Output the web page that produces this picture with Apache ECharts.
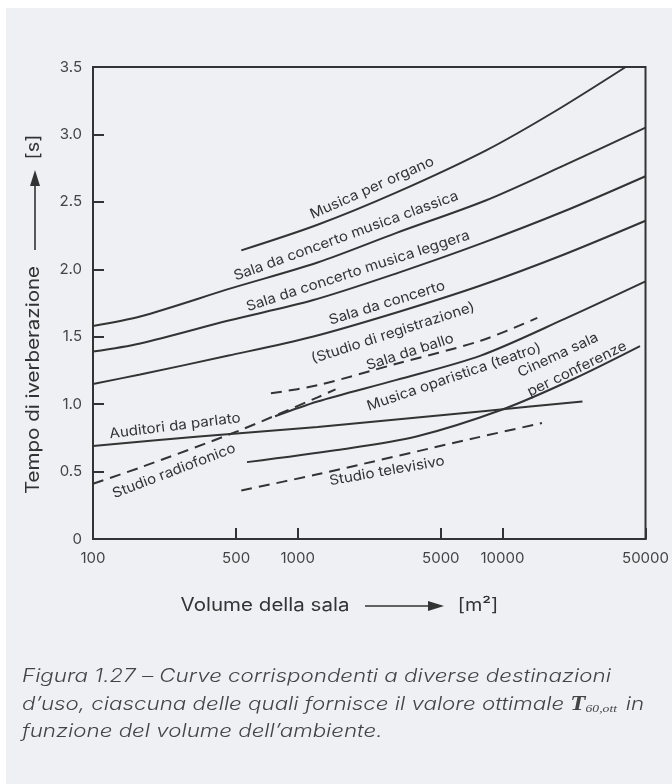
<!DOCTYPE html>
<html><head><meta charset="utf-8">
<script src="https://cdn.jsdelivr.net/npm/echarts@6/dist/echarts.min.js"></script>
<style>
html,body{margin:0;padding:0;background:#fff;}
#bg{position:absolute;left:6px;top:8px;width:666px;height:776px;background:#eff0f4;}
#chart{position:absolute;left:0;top:0;width:672px;height:784px;}
</style></head><body>
<div id="bg"></div><div id="chart"></div>
<script>
// ---- Data (volume m³ , reverberation time s) ----
const xTickValues = [100, 500, 1000, 5000, 10000, 50000];
const yTickValues = [0, 0.5, 1.0, 1.5, 2.0, 2.5, 3.0, 3.5];

const organoV = [530, 1250, 3040, 8280, 18000, 40000];
const organoT = [2.14, 2.33, 2.57, 2.88, 3.17, 3.5];

const classicaV = [100, 170, 475, 1250, 3040, 8280, 20000, 50000];
const classicaT = [1.58, 1.65, 1.86, 2.05, 2.27, 2.51, 2.77, 3.05];

const leggeraV = [100, 170, 460, 1180, 3040, 7830, 20000, 50000];
const leggeraT = [1.39, 1.45, 1.62, 1.77, 1.97, 2.19, 2.43, 2.69];

const concertoV = [100, 170, 460, 1180, 3040, 7830, 20000, 50000];
const concertoT = [1.15, 1.22, 1.36, 1.50, 1.68, 1.88, 2.11, 2.36];

const operaV = [775, 1250, 3040, 7830, 20000, 50000];
const operaT = [0.91, 1.02, 1.18, 1.36, 1.63, 1.91];

const auditoriV = [100, 330, 1250, 8280, 24600];
const auditoriT = [0.69, 0.76, 0.83, 0.95, 1.02];

const cinemaV = [565, 1560, 3800, 10000, 22500, 47000];
const cinemaT = [0.57, 0.66, 0.76, 0.96, 1.19, 1.43];

const tvV = [530, 1250, 7400, 15600];
const tvT = [0.36, 0.48, 0.75, 0.86];

const balloV = [740, 1250, 3040, 7830, 14800];
const balloT = [1.08, 1.14, 1.30, 1.47, 1.64];

const radioV = [100, 170, 510, 1250, 1530];
const radioT = [0.41, 0.53, 0.80, 1.05, 1.11];

const curves = [
  {name: 'Musica per organo', v: organoV, t: organoT, dashed: false},
  {name: 'Sala da concerto musica classica', v: classicaV, t: classicaT, dashed: false},
  {name: 'Sala da concerto musica leggera', v: leggeraV, t: leggeraT, dashed: false},
  {name: 'Sala da concerto (Studio di registrazione)', v: concertoV, t: concertoT, dashed: false},
  {name: 'Musica oparistica (teatro)', v: operaV, t: operaT, dashed: false},
  {name: 'Auditori da parlato', v: auditoriV, t: auditoriT, dashed: false},
  {name: 'Cinema sala per conferenze', v: cinemaV, t: cinemaT, dashed: false},
  {name: 'Studio televisivo', v: tvV, t: tvT, dashed: true},
  {name: 'Sala da ballo', v: balloV, t: balloT, dashed: true},
  {name: 'Studio radiofonico', v: radioV, t: radioT, dashed: true}
];

// curve annotation texts (layout: centre px, angle deg)
const curveLabels = [
  {text: 'Musica per organo', x: 372, y: 188, a: 24},
  {text: 'Sala da concerto musica classica', x: 346, y: 236, a: 20},
  {text: 'Sala da concerto musica leggera', x: 358, y: 271, a: 18},
  {text: 'Sala da concerto', x: 387, y: 303, a: 17},
  {text: '(Studio di registrazione)', x: 393, y: 333, a: 18},
  {text: 'Sala da ballo', x: 410, y: 352, a: 18},
  {text: 'Musica oparistica (teatro)', x: 454, y: 377, a: 19},
  {text: 'Cinema sala', x: 558, y: 355, a: 25},
  {text: 'per conferenze', x: 577, y: 369, a: 26},
  {text: 'Auditori da parlato', x: 175, y: 426, a: 7},
  {text: 'Studio radiofonico', x: 174, y: 471, a: 21},
  {text: 'Studio televisivo', x: 387, y: 471, a: 10}
];

const FONT = 'Inter, "Noto Sans", sans-serif';
const INK = '#333333';

const chart = echarts.init(document.getElementById('chart'), null, {renderer: 'canvas'});

const series = curves.map(c => ({
  name: c.name,
  type: 'line',
  smooth: 0.3,
  symbol: 'none',
  silent: true,
  data: c.v.map((v, i) => [Math.log10(v), c.t[i]]),
  lineStyle: {color: INK, width: 2, type: c.dashed ? [11, 7] : 'solid', cap: 'butt'}
}));

const graphics = [];
curveLabels.forEach(l => {
  graphics.push({
    type: 'text', x: l.x, y: l.y, rotation: l.a * Math.PI / 180, scaleX: 1.08,
    style: {text: l.text, fill: INK, font: '14px ' + FONT, textAlign: 'center', textVerticalAlign: 'middle'}
  });
});
// axis names with arrows
graphics.push(
  {type: 'text', x: 265, y: 606, scaleX: 1.14, style: {text: 'Volume della sala', fill: INK, font: '18px ' + FONT, textAlign: 'center', textVerticalAlign: 'middle'}},
  {type: 'line', shape: {x1: 365, y1: 606, x2: 432, y2: 606}, style: {stroke: INK, lineWidth: 1.6}},
  {type: 'polygon', shape: {points: [[428, 601], [444, 606], [428, 611]]}, style: {fill: INK}},
  {type: 'text', x: 478, y: 606, scaleX: 1.1, style: {text: '[m²]', fill: INK, font: '18px ' + FONT, textAlign: 'center', textVerticalAlign: 'middle'}},
  {type: 'text', x: 34, y: 380, rotation: Math.PI / 2, scaleX: 1.14, style: {text: 'Tempo di iverberazione', fill: INK, font: '18px ' + FONT, textAlign: 'center', textVerticalAlign: 'middle'}},
  {type: 'line', shape: {x1: 35, y1: 250, x2: 35, y2: 182}, style: {stroke: INK, lineWidth: 1.6}},
  {type: 'polygon', shape: {points: [[30, 186], [35, 170], [40, 186]]}, style: {fill: INK}},
  {type: 'text', x: 34, y: 147, rotation: Math.PI / 2, scaleX: 1.1, style: {text: '[s]', fill: INK, font: '18px ' + FONT, textAlign: 'center', textVerticalAlign: 'middle'}}
);
// caption
const capStyle = {fill: '#444', fontFamily: FONT, fontSize: 18, fontStyle: 'italic', fontWeight: 300, textVerticalAlign: 'middle'};
const capLines = [
  'Figura 1.27 – Curve corrispondenti a diverse destinazioni',
  'd’uso, ciascuna delle quali fornisce il valore ottimale {t|T}{s|60,ott} in',
  'funzione del volume dell’ambiente.'
];
const capY = [677, 705, 732];
capLines.forEach((txt, i) => {
  graphics.push({
    type: 'text', x: 22, y: capY[i], scaleX: 1.24,
    style: Object.assign({}, capStyle, {
      text: txt,
      rich: {
        t: {fontFamily: '"Liberation Serif", "DejaVu Serif", serif', fontStyle: 'italic', fontWeight: 'bold', fontSize: 20, fill: '#444'},
        s: {fontFamily: '"Liberation Serif", "DejaVu Serif", serif', fontStyle: 'italic', fontSize: 11, fill: '#444', verticalAlign: 'bottom', padding: [8, 2, 0, 0]}
      }
    })
  });
});

chart.setOption({
  animation: false,
  backgroundColor: 'transparent',
  textStyle: {fontFamily: FONT},
  grid: {left: 93, top: 67, right: 17, bottom: 245, show: true, borderColor: INK, borderWidth: 2, backgroundColor: 'transparent'},
  xAxis: {
    type: 'value',
    min: Math.log10(xTickValues[0]),
    max: Math.log10(xTickValues[xTickValues.length - 1]),
    axisLine: {show: true, lineStyle: {color: INK, width: 2}},
    axisTick: {show: true, inside: true, length: 11, lineStyle: {color: INK, width: 2},
      customValues: xTickValues.map(v => Math.log10(v))},
    axisLabel: {show: true, color: '#444', fontSize: 15, margin: 12, fontFamily: FONT,
      customValues: xTickValues.map(v => Math.log10(v)),
      formatter: v => String(Math.round(Math.pow(10, v)))},
    splitLine: {show: false}
  },
  yAxis: {
    type: 'value',
    min: 0, max: 3.5, interval: 0.5,
    axisLine: {show: true, lineStyle: {color: INK, width: 2}},
    axisTick: {show: true, inside: true, length: 11, lineStyle: {color: INK, width: 2}},
    axisLabel: {show: true, color: '#444', fontSize: 15, margin: 11, fontFamily: FONT,
      formatter: v => (v === 0 ? '0' : v.toFixed(1))},
    splitLine: {show: false}
  },
  series: series,
  graphic: graphics
});
</script>
</body></html>
